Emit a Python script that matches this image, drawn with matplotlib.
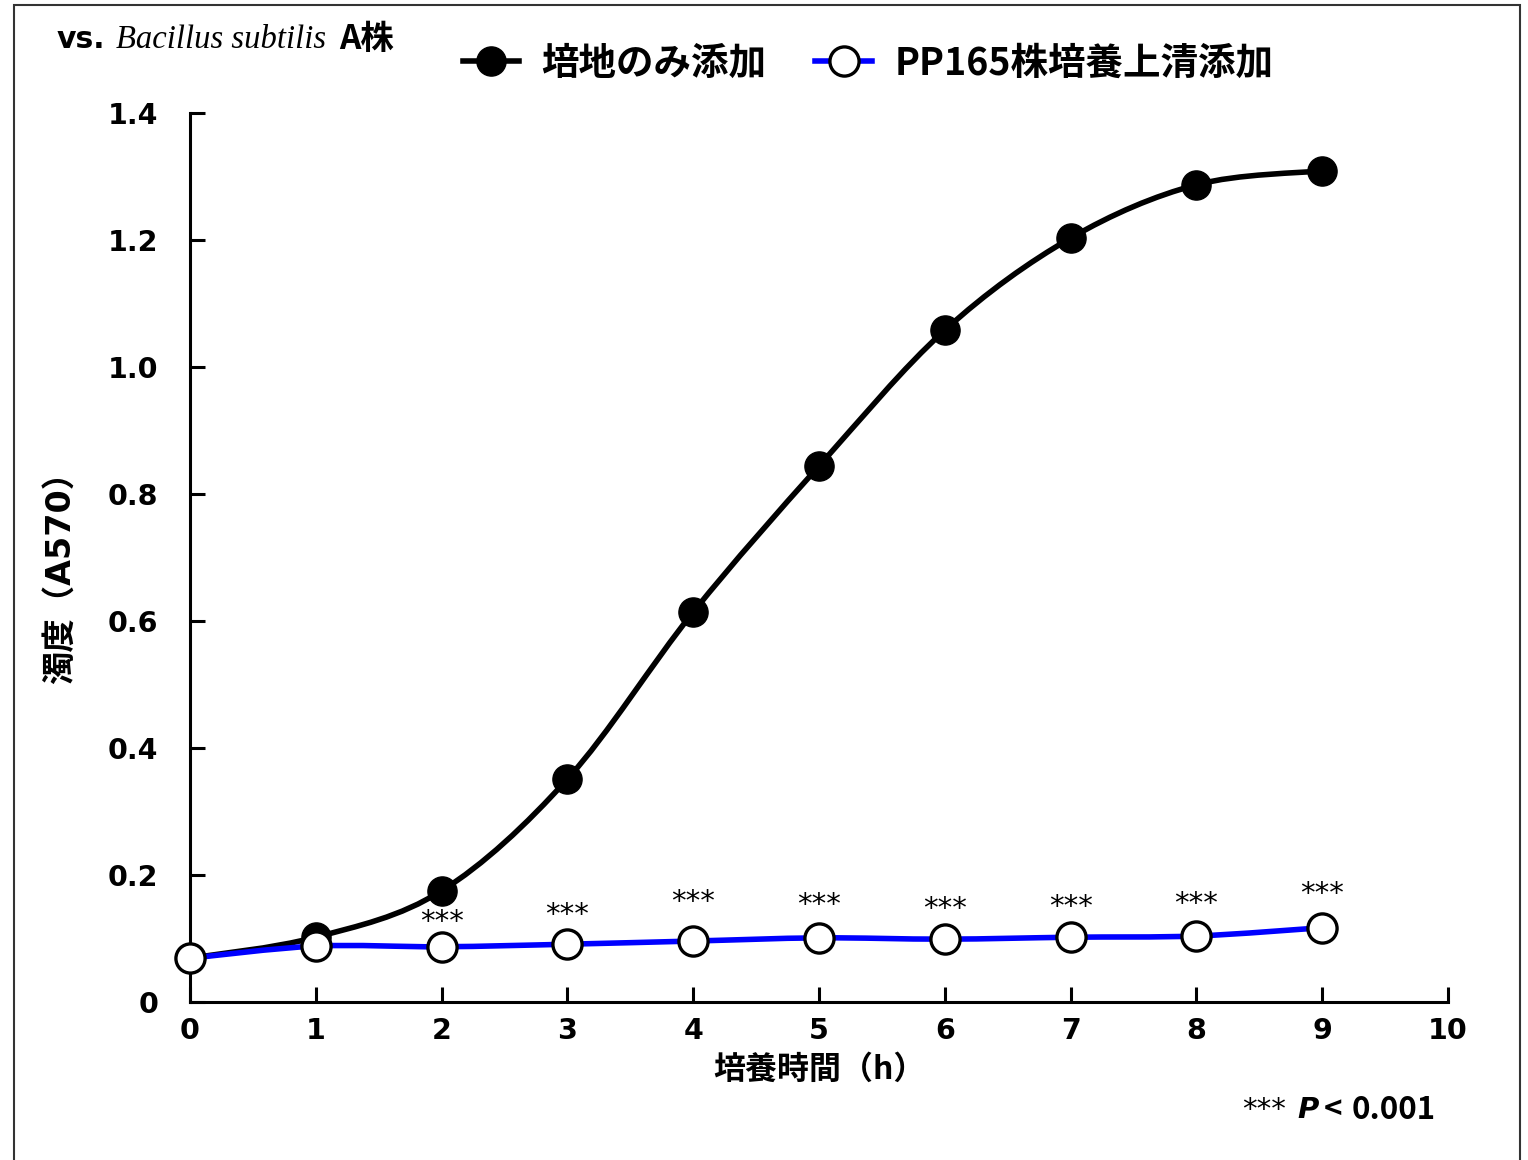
import numpy as np
import matplotlib
matplotlib.use('Agg')
import matplotlib.pyplot as plt
from matplotlib.path import Path
from matplotlib.patches import PathPatch, Rectangle
from matplotlib.lines import Line2D

plt.rcParams['font.family'] = ['DejaVu Sans', 'Noto Sans CJK JP']

# データ
hours = [0, 1, 2, 3, 4, 5, 6, 7, 8, 9]
medium_only = [0.069, 0.102, 0.175, 0.351, 0.614, 0.844, 1.058, 1.203, 1.287, 1.309]
pp165_sup = [0.069, 0.088, 0.087, 0.091, 0.096, 0.101, 0.099, 0.102, 0.104, 0.117]
star_hours = [2, 3, 4, 5, 6, 7, 8, 9]
star_heights = [0.126, 0.137, 0.158, 0.153, 0.147, 0.150, 0.154, 0.170]
label_medium = '培地のみ添加'
label_pp165 = 'PP165株培養上清添加'
x_ticks = list(range(0, 11))
y_ticks = [0, 0.2, 0.4, 0.6, 0.8, 1.0, 1.2, 1.4]
y_ticklabels = ['0', '0.2', '0.4', '0.6', '0.8', '1.0', '1.2', '1.4']

W, H = 1528, 1160
CJK = ['Noto Sans CJK JP', 'DejaVu Sans']


'''平滑化曲線 (Catmull-Rom -> Bezier)'''
def smooth_path(x, y):
    pts = np.column_stack([x, y]).astype(float)
    n = len(pts)
    verts = [pts[0]]
    codes = [Path.MOVETO]
    for i in range(n - 1):
        p0 = pts[max(i - 1, 0)]
        p1 = pts[i]
        p2 = pts[i + 1]
        p3 = pts[min(i + 2, n - 1)]
        c1 = p1 + (p2 - p0) / 6.0
        c2 = p2 - (p3 - p1) / 6.0
        verts += [c1, c2, p2]
        codes += [Path.CURVE4] * 3
    return Path(verts, codes)


fig = plt.figure(figsize=(W / 100, H / 100), dpi=100)
ax = fig.add_axes([190 / W, 1 - 1002 / H, (1448 - 190) / W, (1002 - 113) / H])

# 曲線
ax.add_patch(PathPatch(smooth_path(hours, medium_only), facecolor='none',
                       edgecolor='black', lw=4, zorder=2, clip_on=False))
ax.add_patch(PathPatch(smooth_path(hours, pp165_sup), facecolor='none',
                       edgecolor='#0000ff', lw=4, zorder=4, clip_on=False))
ax.plot(hours, medium_only, ls='none', marker='o', ms=21, mfc='black',
        mec='black', zorder=3, clip_on=False)
ax.plot(hours, pp165_sup, ls='none', marker='o', ms=21, mfc='white',
        mec='black', mew=2.4, zorder=5, clip_on=False)

for h, s in zip(star_hours, star_heights):
    ax.text(h, s, '***', ha='center', va='center', fontsize=21)

ax.set_xlim(0, 10)
ax.set_ylim(0, 1.4)
ax.set_xticks(x_ticks)
ax.set_yticks(y_ticks)
ax.set_yticklabels(y_ticklabels)
for s in ['top', 'right']:
    ax.spines[s].set_visible(False)
for s in ['left', 'bottom']:
    ax.spines[s].set_linewidth(2.2)
ax.tick_params(axis='both', direction='in', length=11, width=2.2,
               labelsize=20.5)
ax.tick_params(axis='y', pad=23)
ax.tick_params(axis='x', pad=11)
for lab in ax.get_xticklabels() + ax.get_yticklabels():
    lab.set_fontweight('bold')

ax.set_xlabel('培養時間（h）', fontsize=23, fontweight='bold', family=CJK,
              labelpad=6)
fig.text(60 / W, 1 - 569 / H, '濁度（A570）', rotation=90, fontsize=24,
         fontweight='bold', ha='center', va='center')

# 凡例
handles = [
    Line2D([], [], color='black', lw=4, marker='o', ms=21, mfc='black', mec='black'),
    Line2D([], [], color='#0000ff', lw=4, marker='o', ms=21, mfc='white', mec='black', mew=2.4),
]
fig.legend(handles, [label_medium, label_pp165], loc='center',
           bbox_to_anchor=(868 / W, 1 - 63 / H), ncol=2, frameon=False,
           handlelength=1.5, handletextpad=0.6, columnspacing=1.3,
           prop={'family': CJK, 'weight': 'bold', 'size': 27})

# タイトル
ty = 1 - 40 / H
fig.text(57 / W, ty, 'vs.', fontsize=21.5, fontweight='bold', va='center')
fig.text(116 / W, ty, 'Bacillus subtilis', fontsize=23.5, style='italic',
         family='Liberation Serif', va='center')
fig.text(339 / W, ty, 'A株', fontsize=24, fontweight='bold', family=CJK,
         va='center')

# 有意差
py = 1 - 1110 / H
fig.text(1242 / W, py, '***', fontsize=21, va='center')
fig.text(1297 / W, py, 'P', fontsize=21, fontweight='bold', style='italic',
         va='center')
fig.text(1324 / W, py, '<', fontsize=22.5, fontweight='bold',
         family=CJK, va='center')
fig.text(1436 / W, py, '0.001', fontsize=22.5, fontweight='bold',
         family=CJK, va='center', ha='right')

# 外枠
fig.patches.append(Rectangle((14 / W, -0.02), (1520 - 14) / W, 1.02 - 5 / H,
                             transform=fig.transFigure, fill=False,
                             edgecolor='#333333', lw=1.5))

plt.savefig('out.png', dpi=100)
